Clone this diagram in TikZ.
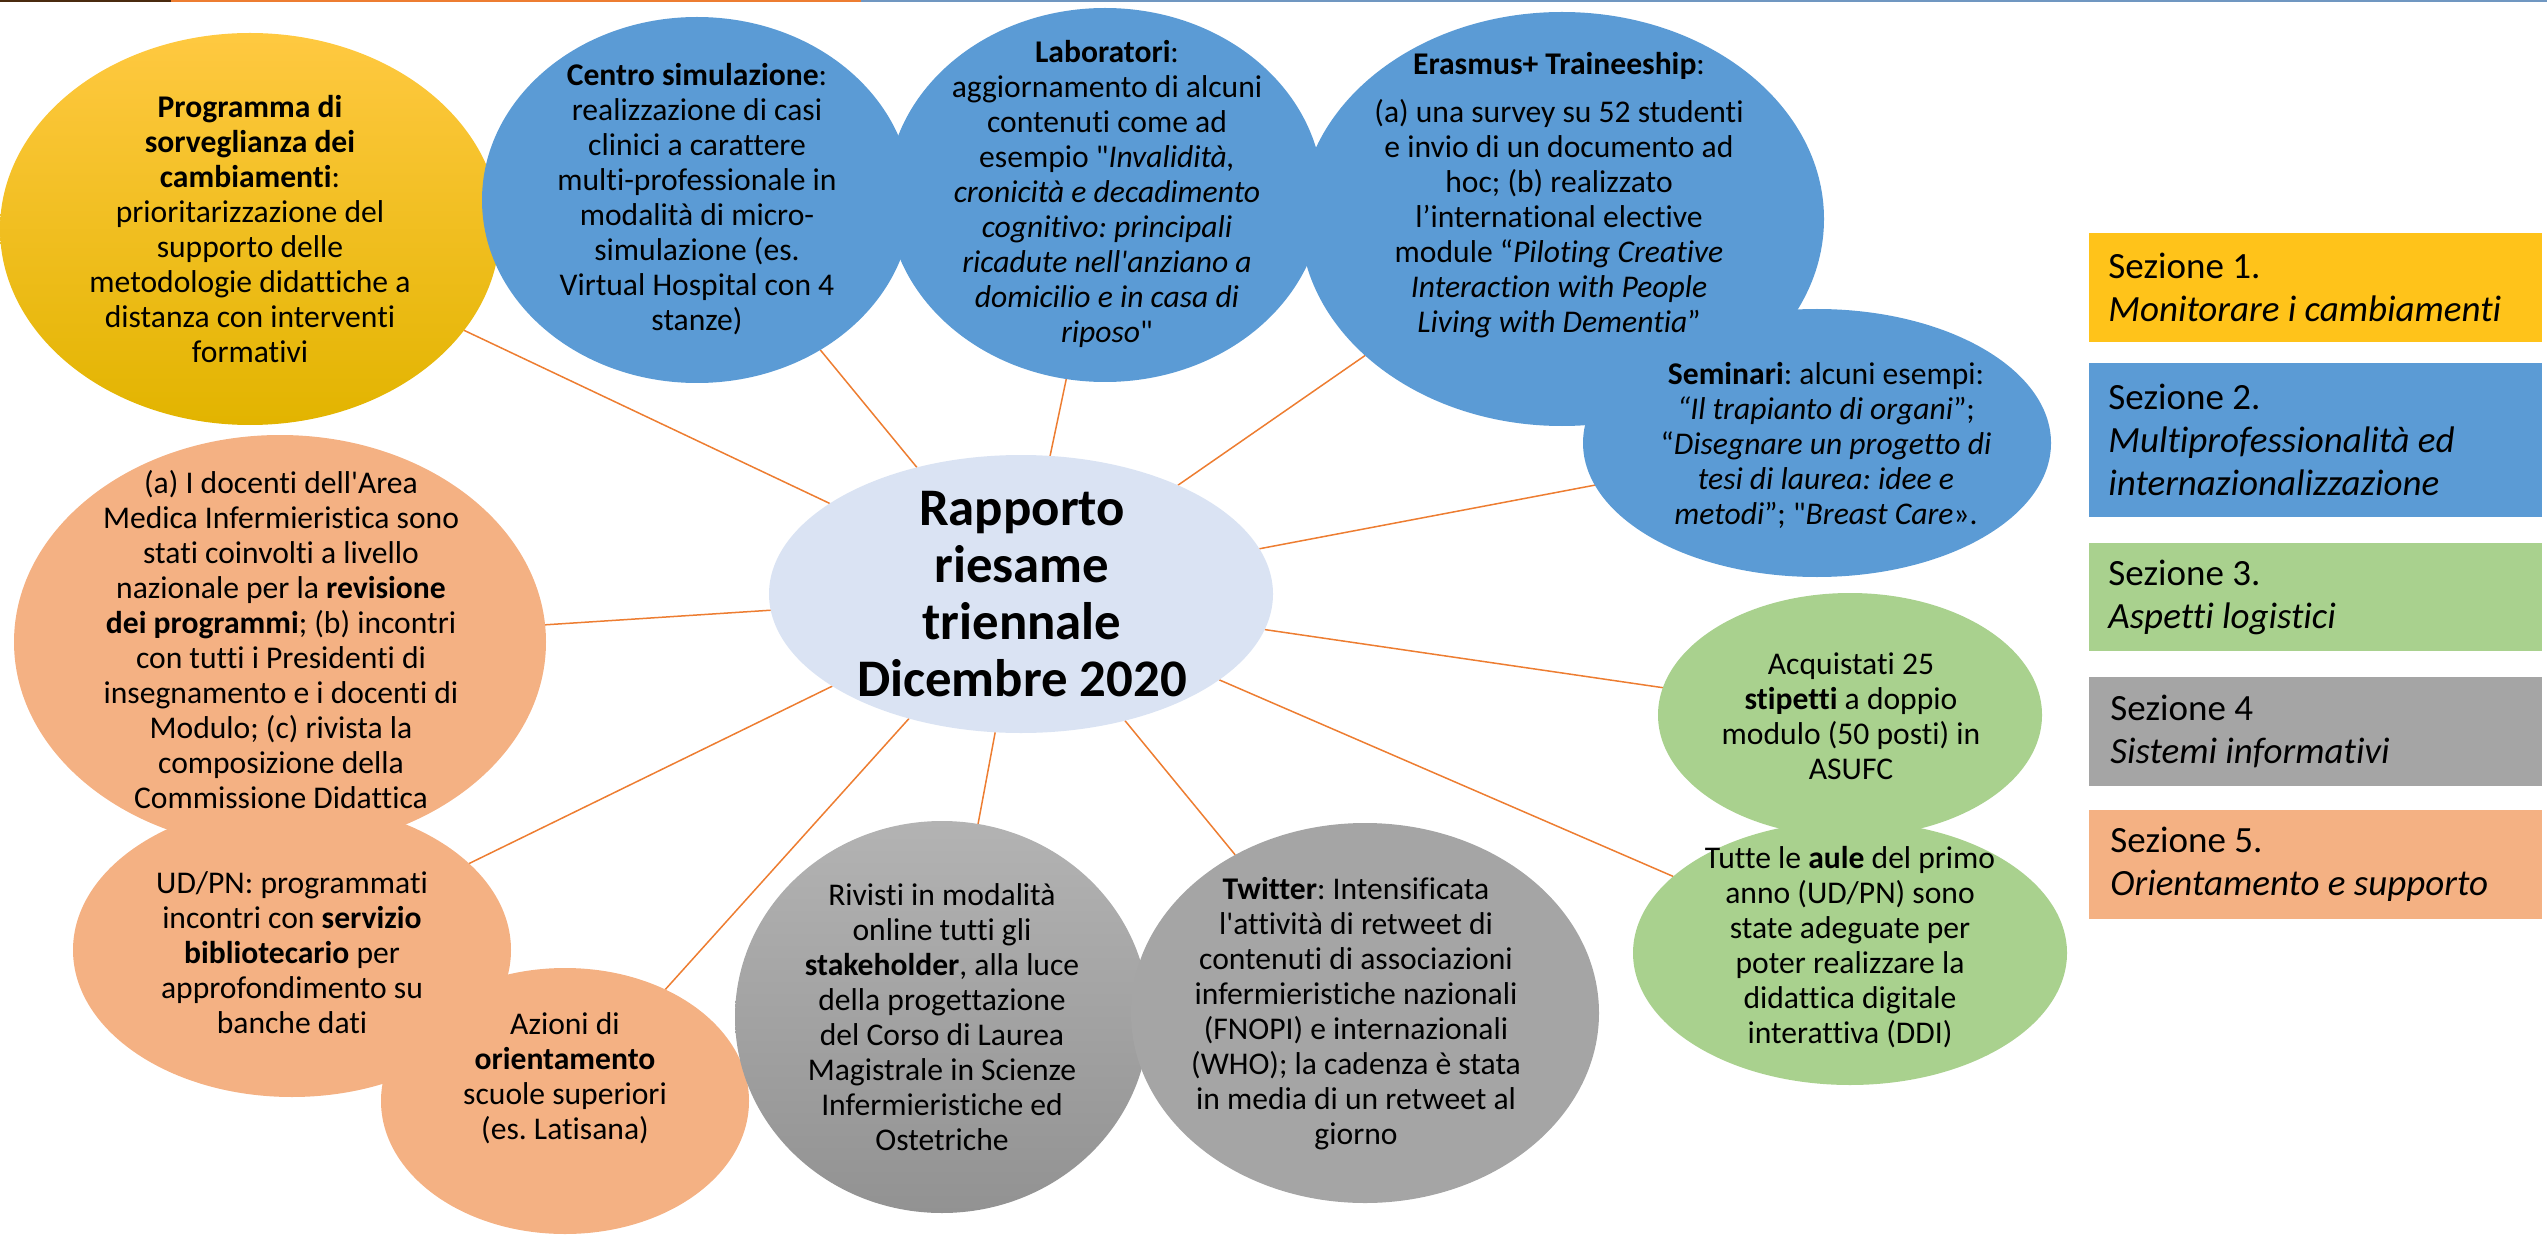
\documentclass[tikz,border=0pt]{standalone}
\usepackage{fontspec}
\setmainfont{Carlito}[Ligatures={TeXOff,CommonOff}]
\usetikzlibrary{shapes.geometric}
\pgfdeclarelayer{bg}
\pgfsetlayers{bg,main}
\frenchspacing
\definecolor{cblue}{HTML}{5B9BD5}
\definecolor{corange}{HTML}{F4B183}
\definecolor{cgreen}{HTML}{A9D18E}
\definecolor{cgray}{HTML}{A5A5A5}
\definecolor{cyellow}{HTML}{FFC000}
\definecolor{ytop}{HTML}{FFC941}
\definecolor{ybot}{HTML}{E2B400}
\definecolor{gtop}{HTML}{B3B3B3}
\definecolor{gbot}{HTML}{929292}
\definecolor{ccenter}{HTML}{DAE3F3}
\definecolor{cline}{HTML}{ED7D31}
\definecolor{cdark}{HTML}{4A2A0F}
\definecolor{ctopblue}{HTML}{7097C1}
\definecolor{legyellow}{HTML}{FFC31A}
\begin{document}
\begin{tikzpicture}[x=0.5pt,y=-0.5pt,
  ell/.style={ellipse, inner sep=0pt, outer sep=0pt, draw=none},
  body/.style={align=center, inner sep=0pt, font=\fontsize{15.8pt}{17.5pt}\selectfont},
  title/.style={align=center, inner sep=0pt, font=\fontsize{26.4pt}{28.5pt}\selectfont\bfseries},
  conn/.style={draw=cline, line width=0.75pt},
  legbox/.style={rectangle, inner sep=0pt, outer sep=0pt, minimum width=226.5pt},
  legtxt/.style={align=left, anchor=west, inner sep=0pt, font=\fontsize{18.5pt}{21.5pt}\selectfont}]
\useasboundingbox (0,0) rectangle (2547,1235);
% top rule
\fill[cdark] (0,0) rectangle (171,2.5);
\fill[cline] (171,0) rectangle (861,2.5);
\fill[ctopblue] (861,0) rectangle (2547,2.5);

% ellipses
\node[ell, top color=ytop, middle color=cyellow, bottom color=ybot, minimum width=250pt, minimum height=196pt] (y1) at (250,229) {};
\node[ell, fill=cblue, minimum width=215pt, minimum height=183pt] (b1) at (697,200) {};
\node[ell, fill=cblue, minimum width=218pt, minimum height=187pt] (b2) at (1105,195) {};
\node[ell, fill=cblue, minimum width=262pt, minimum height=207pt] (b3) at (1562,219) {};
\node[ell, fill=cblue, minimum width=234pt, minimum height=134pt] (b4) at (1817,443) {};
\node[ell, fill=ccenter, minimum width=252pt, minimum height=139pt] (c) at (1021,594) {};
\node[ell, fill=corange, minimum width=266pt, minimum height=207pt] (o1) at (280,642) {};
\node[ell, fill=corange, minimum width=219pt, minimum height=147pt] (o2) at (292,950) {};
\node[ell, fill=corange, minimum width=184pt, minimum height=133pt] (o3) at (565,1101) {};
\node[ell, top color=gtop, bottom color=gbot, minimum width=207pt, minimum height=196pt] (g1) at (942,1017) {};
\node[ell, fill=cgray, minimum width=234pt, minimum height=190pt] (g2) at (1365,1013) {};
\node[ell, fill=cgreen, minimum width=192pt, minimum height=122pt] (v1) at (1850,715) {};
\node[ell, fill=cgreen, minimum width=217pt, minimum height=132pt] (v2) at (1850,953) {};

% connectors
\begin{pgfonlayer}{bg}
\foreach \n in {y1,b1,b2,b3,b4,o1,o2,o3,g1,g2,v1,v2}
  \draw[conn] (c) -- (\n);
\end{pgfonlayer}

% texts
\node[body] (ty1) at (250,229) {\textbf{Programma di}\\\textbf{sorveglianza dei}\\\textbf{cambiamenti}:\\prioritarizzazione del\\supporto delle\\metodologie didattiche a\\distanza con interventi\\formativi};
\node[body] (tb1) at (697,199) {\textbf{Centro simulazione}:\\realizzazione di casi\\clinici a carattere\\multi-professionale in\\modalità di micro-\\simulazione (es.\\Virtual Hospital con 4\\stanze)};
\node[body] (tb2) at (1107,194) {\textbf{Laboratori}:\\aggiornamento di alcuni\\contenuti come ad\\esempio "\textit{Invalidità,}\\\textit{cronicità e decadimento}\\\textit{cognitivo: principali}\\\textit{ricadute nell'anziano a}\\\textit{domicilio e in casa di}\\\textit{riposo}"};
\node[body] (tb3) at (1559,195) {\textbf{Erasmus+ Traineeship}:\\[6.5pt](a) una survey su 52 studenti\\e invio di un documento ad\\hoc; (b) realizzato\\l’international elective\\module “\textit{Piloting Creative}\\\textit{Interaction with People}\\\textit{Living with Dementia}”};
\node[body] (tb4) at (1826,445) {\textbf{Seminari}: alcuni esempi:\\\textit{“Il trapianto di organi}”;\\“\textit{Disegnare un progetto di}\\\textit{tesi di laurea: idee e}\\\textit{metodi}”; "\textit{Breast Care}».};
\node[title] (tc) at (1022,594) {Rapporto\\riesame\\triennale\\Dicembre 2020};
\node[body] (to1) at (281,640) {(a) I docenti dell'Area\\Medica Infermieristica sono\\stati coinvolti a livello\\nazionale per la \textbf{revisione}\\\textbf{dei programmi}; (b) incontri\\con tutti i Presidenti di\\insegnamento e i docenti di\\Modulo; (c) rivista la\\composizione della\\Commissione Didattica};
\node[body] (to2) at (292,953) {UD/PN: programmati\\incontri con \textbf{servizio}\\\textbf{bibliotecario} per\\approfondimento su\\banche dati};
\node[body] (to3) at (565,1078) {Azioni di\\\textbf{orientamento}\\scuole superiori\\(es. Latisana)};
\node[body] (tg1) at (942,1017) {Rivisti in modalità\\online tutti gli\\\textbf{stakeholder}, alla luce\\della progettazione\\del Corso di Laurea\\Magistrale in Scienze\\Infermieristiche ed\\Ostetriche};
\node[body] (tg2) at (1356,1014) {\textbf{Twitter}: Intensificata\\l'attività di retweet di\\contenuti di associazioni\\infermieristiche nazionali\\(FNOPI) e internazionali\\(WHO); la cadenza è stata\\in media di un retweet al\\giorno};
\node[body] (tv1) at (1851,716) {Acquistati 25\\\textbf{stipetti} a doppio\\modulo (50 posti) in\\ASUFC};
\node[body] (tv2) at (1850,947) {Tutte le \textbf{aule} del primo\\anno (UD/PN) sono\\state adeguate per\\poter realizzare la\\didattica digitale\\interattiva (DDI)};

% legend
\node[legbox, fill=legyellow, minimum height=54.5pt] (s1) at (2315.5,287.5) {};
\node[legbox, fill=cblue, minimum height=77pt] (s2) at (2315.5,440) {};
\node[legbox, fill=cgreen, minimum height=54pt] (s3) at (2315.5,597) {};
\node[legbox, fill=cgray, minimum height=54.5pt] (s4) at (2315.5,731.5) {};
\node[legbox, fill=corange, minimum height=54.5pt] (s5) at (2315.5,864.5) {};
\node[legtxt] (l1) at (2108,287.5) {Sezione 1.\\\textit{Monitorare i cambiamenti}};
\node[legtxt] (l2) at (2108,440) {Sezione 2.\\\textit{Multiprofessionalità ed}\\\textit{internazionalizzazione}};
\node[legtxt] (l3) at (2108,597) {Sezione 3.\\\textit{Aspetti logistici}};
\node[legtxt] (l4) at (2110,731.5) {Sezione 4\\\textit{Sistemi informativi}};
\node[legtxt] (l5) at (2110,864.5) {Sezione 5.\\\textit{Orientamento e supporto}};
\end{tikzpicture}
\end{document}
